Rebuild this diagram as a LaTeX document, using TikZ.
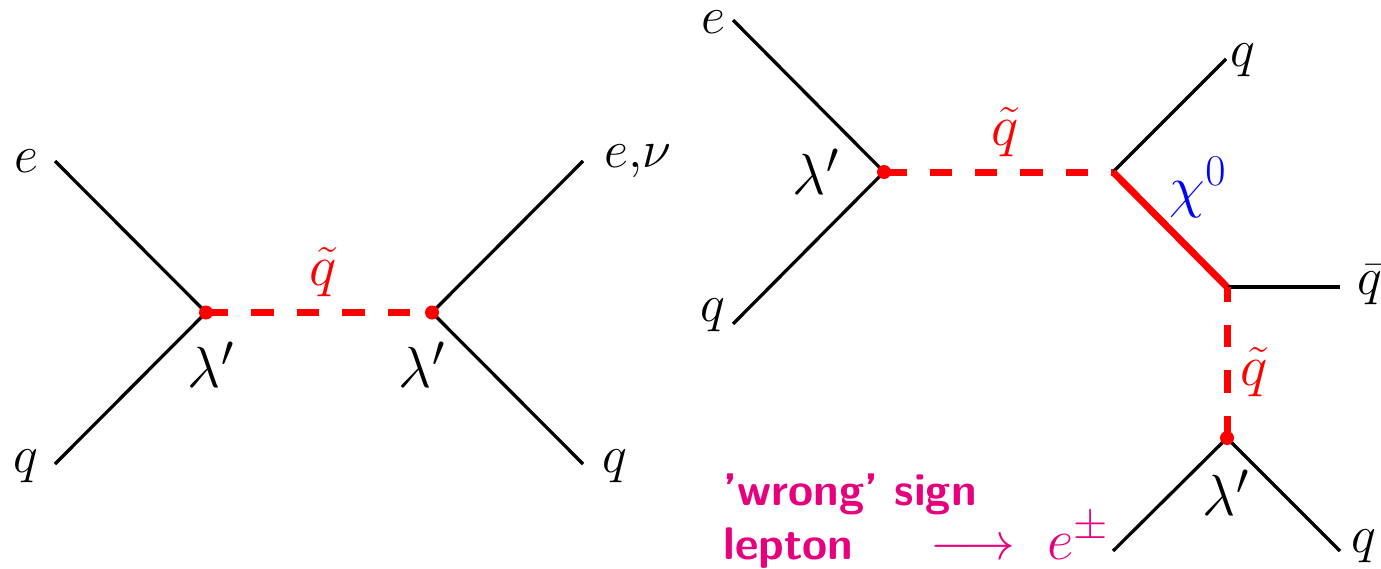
\RequirePackage{fix-cm}
\documentclass[tikz,border=0pt]{standalone}
\usepackage{amsmath}
\usetikzlibrary{backgrounds}
\DeclareMathSizes{30}{30}{21}{15}
\DeclareMathSizes{33}{33}{25}{17}
\definecolor{wrongc}{RGB}{230,0,126}
\tikzset{
 px/.style={x=0.02cm,y=-0.02cm},
 fline/.style={line width=0.065cm,black},
 sq/.style={line width=0.14cm,red,dash pattern=on 0.45cm off 0.46cm},
 chi/.style={line width=0.14cm,red},
 vtx/.style={circle,fill=red,inner sep=0pt,minimum size=0.28cm},
 lbl/.style={inner sep=0pt,font=\fontsize{30}{35}\selectfont},
 biglbl/.style={inner sep=0pt,font=\fontsize{33}{38}\selectfont},
 wrong/.style={inner sep=0pt,anchor=west,text=wrongc,font=\fontsize{26}{31}\selectfont\sffamily\bfseries},
}
\begin{document}
\begin{tikzpicture}[px]
\useasboundingbox (0,0) rectangle (1381,568);
% left diagram
\coordinate (a1) at (55,161);
\coordinate (a2) at (55,464);
\coordinate (a3) at (583,161);
\coordinate (a4) at (583,464);
\node[vtx] (v1) at (206,312.5) {};
\node[vtx] (v2) at (432,312.5) {};
\begin{scope}[on background layer]
\draw[fline] (a1) -- (v1.center) -- (a2);
\draw[fline] (a3) -- (v2.center) -- (a4);
\draw[sq] (v1.center) -- (v2.center);
\end{scope}
\node[lbl] (t1) at (26,161) {$e$};
\node[lbl] (t2) at (26,466) {$q$};
\node[lbl] (t3) at (638,161) {$e,\!\nu$};
\node[lbl] (t4) at (615,466) {$q$};
\node[biglbl,text=red] (t5) at (323,272) {$\tilde q$};
\node[biglbl] (t6) at (211,365) {$\lambda'$};
\node[biglbl] (t7) at (422,365) {$\lambda'$};
% right diagram
\coordinate (b1) at (733,20);
\coordinate (b2) at (733,324);
\node[vtx] (v3) at (884,172) {};
\coordinate (v4) at (1113,172);
\coordinate (c1) at (1226,59);
\coordinate (v5) at (1227,287);
\coordinate (c2) at (1340,287);
\node[vtx] (v6) at (1227,438) {};
\coordinate (d1) at (1113,551);
\coordinate (d2) at (1340,551);
\begin{scope}[on background layer]
\draw[fline] (b1) -- (v3.center) -- (b2);
\draw[fline] (v4) -- (c1);
\draw[fline] (v5) -- (c2);
\draw[fline] (d1) -- (v6.center) -- (d2);
\draw[sq] (v3.center) -- (v4);
\draw[chi] (v4) -- (v5);
\draw[sq] (v6.center) -- (v5);
\end{scope}
\node[lbl] (u1) at (713,22) {$e$};
\node[lbl] (u2) at (713,315) {$q$};
\node[lbl] (u3) at (1243,60) {$q$};
\node[lbl] (u4) at (1370,285) {$\bar q$};
\node[lbl] (u5) at (1364,546) {$q$};
\node[biglbl,text=red] (u6) at (1005,132) {$\tilde q$};
\node[biglbl,text=red] (u7) at (1254,372) {$\tilde q$};
\node[biglbl,text=blue] (u8) at (1198,187) {$\chi^0$};
\node[biglbl] (u9) at (816,172) {$\lambda'$};
\node[biglbl] (u10) at (1226,493) {$\lambda'$};
\node[wrong] (w1) at (723,494) {'wrong' sign};
\node[wrong] (w2) at (723,548) {lepton};
\node[lbl,text=wrongc] (w3) at (973,550) {$\longrightarrow$};
\node[biglbl,text=wrongc] (w4) at (1078,536) {$e^{\pm}$};
\end{tikzpicture}
\end{document}
